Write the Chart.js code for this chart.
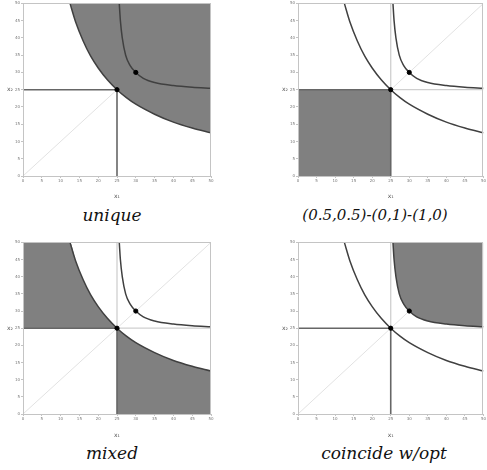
<!DOCTYPE html>
<html>
<head>
<meta charset="utf-8">
<script src="https://cdn.jsdelivr.net/npm/chart.js@4.4.1/dist/chart.umd.min.js"></script>
<style>
  body { margin:0; background:#fff; width:487px; height:470px; position:relative; overflow:hidden; }
  canvas { position:absolute; }
  .cap { position:absolute; width:240px; text-align:center; font-family:"DejaVu Serif"; font-style:italic; font-size:17px; line-height:20px; color:#111; }
</style>
</head>
<body>
<canvas id="c1" width="230" height="200" style="left:0;top:0"></canvas>
<canvas id="c2" width="212" height="200" style="left:275px;top:0"></canvas>
<canvas id="c3" width="230" height="200" style="left:0;top:239px"></canvas>
<canvas id="c4" width="212" height="200" style="left:275px;top:239px"></canvas>
<div class="cap" style="left:-8px;top:205px">unique</div>
<div class="cap" style="left:255px;top:205px;font-size:15px">(0.5,0.5)-(0,1)-(1,0)</div>
<div class="cap" style="left:-8px;top:443px">mixed</div>
<div class="cap" style="left:264px;top:443px">coincide w/opt</div>
<script>
// tick labels for both axes
var tickVals = [0,5,10,15,20,25,30,35,40,45,50]

// lower curve (through 25,25)
var lowerX = [12.5,14,16,18,20,22.5,25,27.5,30,35,40,45,50]
var lowerY = [50,44.6,39.1,34.7,31.3,27.8,25,22.7,20.8,17.9,15.6,13.9,12.5]

// upper curve (through 30,30)
var upperX = [25.6,25.9,26.4,27.3,28.5,30,32,35,40,45,50]
var upperY = [50,45,40,35,32,30,28.3,27.1,26.2,25.7,25.4]

// the two marked points
var dotX = [25,30]
var dotY = [25,30]

// split level
var split = 25

function pts(xs, ys){
    var r = []
    for (var i=0;i<xs.length;i++) r.push({x:xs[i], y:ys[i]})
    return r
}

var lower = pts(lowerX, lowerY)
var upper = pts(upperX, upperY)
var lowerLeft = lower.filter(function(p){return p.x<=split})
var lowerRight = lower.filter(function(p){return p.x>=split})

var GRAY = '#808080'

function fillSet(data, fill){
    return {data:data, showLine:true, fill:fill, backgroundColor:GRAY, borderWidth:0,
        pointRadius:0, cubicInterpolationMode:'monotone', order:5}
}

// fill regions for each panel
var fills = [
    [fillSet(lower, 'end')],
    [fillSet([{x:0,y:split},{x:split,y:split}], 'start')],
    [fillSet([{x:0,y:50}].concat(lowerLeft), {value:split}), fillSet(lowerRight, 'start')],
    [fillSet(upper, 'end')]
]

var boxPlugin = {
    id:'box',
    afterDraw:function(chart){
        var a = chart.chartArea, c = chart.ctx
        c.save()
        c.strokeStyle = '#c4c4c4'
        c.lineWidth = 1
        c.strokeRect(Math.round(a.left)+0.5, Math.round(a.top)+0.5, Math.round(a.right-a.left)-1, Math.round(a.bottom-a.top))
        // y axis title, horizontal
        var y = chart.scales.y.getPixelForValue(split)
        c.fillStyle = '#555'
        c.font = '6px "DejaVu Sans"'
        c.textAlign = 'center'
        c.textBaseline = 'middle'
        c.fillText('x\u2082', a.left-13, y)
        c.restore()
    }
}

function makeChart(id, k, padRight, xh){
    var sets = fills[k].concat([
        {data:[{x:0,y:0},{x:50,y:50}], showLine:true, borderColor:'#e2e2e2', borderWidth:1, pointRadius:0, order:7},
        {data:[{x:split,y:50},{x:split,y:split},{x:50,y:split}], showLine:true, borderColor:'#cfcfcf', borderWidth:1.3, pointRadius:0, order:6},
        {data:[{x:0,y:split},{x:split,y:split},{x:split,y:0}], showLine:true, borderColor:'#666', borderWidth:1.6, pointRadius:0, order:3},
        {data:lower, showLine:true, borderColor:'#404040', borderWidth:1.5, pointRadius:0, cubicInterpolationMode:'monotone', order:2},
        {data:upper, showLine:true, borderColor:'#404040', borderWidth:1.5, pointRadius:0, cubicInterpolationMode:'monotone', order:1},
        {data:pts(dotX, dotY), showLine:false, backgroundColor:'#000', borderColor:'#000', pointRadius:2.1, order:0}
    ])
    return new Chart(document.getElementById(id), {
        type:'scatter',
        data:{datasets:sets},
        options:{
            responsive:false, animation:false, devicePixelRatio:1,
            layout:{autoPadding:false, padding:{left:0, top:3, right:padRight, bottom:0}},
            plugins:{legend:{display:false}, tooltip:{enabled:false}},
            scales:{
                x:{min:0, max:50,
                    afterBuildTicks:function(s){s.ticks = tickVals.map(function(v){return {value:v}})},
                    afterFit:function(s){s.height = xh},
                    grid:{display:true, drawOnChartArea:false, tickLength:2, color:'#c4c4c4'},
                    border:{display:false},
                    ticks:{autoSkip:false, maxRotation:0, padding:1, color:'#777', font:{size:4, family:'DejaVu Sans'}},
                    title:{display:true, text:'x\u2081', color:'#555', font:{size:6, family:'DejaVu Sans'}, padding:{top:2,bottom:0}}
                },
                y:{min:0, max:50,
                    afterBuildTicks:function(s){s.ticks = tickVals.map(function(v){return {value:v}})},
                    afterFit:function(s){s.width = 23},
                    grid:{display:true, drawOnChartArea:false, tickLength:2, color:'#c4c4c4'},
                    border:{display:false},
                    ticks:{autoSkip:false, padding:1, color:'#777', font:{size:4, family:'DejaVu Sans'}}
                }
            }
        },
        plugins:[boxPlugin]
    })
}

makeChart('c1', 0, 19, 24)
makeChart('c2', 1, 1, 24)
makeChart('c3', 2, 19, 25)
makeChart('c4', 3, 1, 25)
</script>
</body>
</html>
